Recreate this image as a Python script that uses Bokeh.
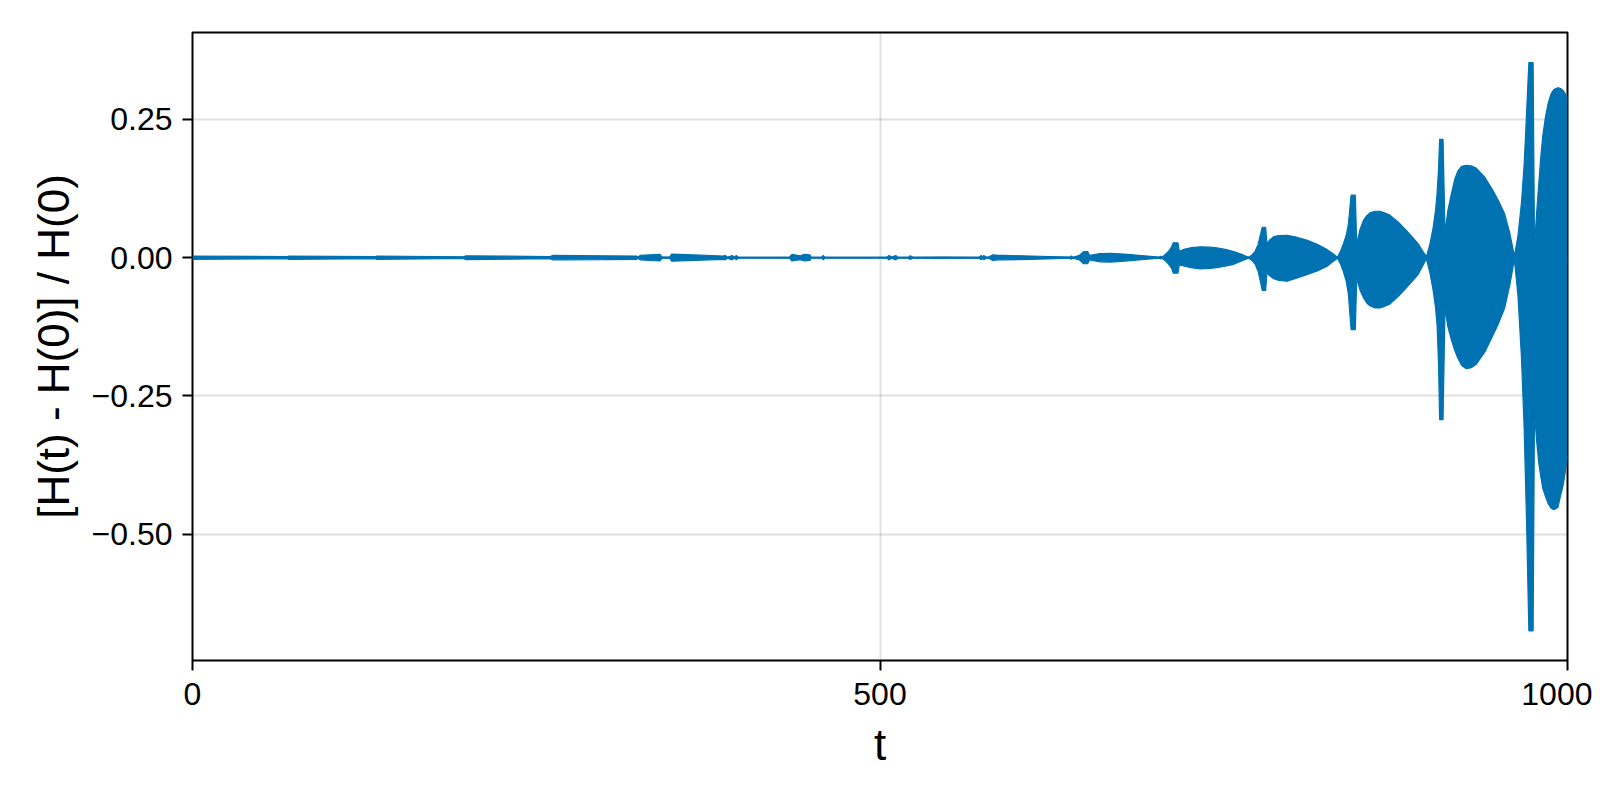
from bokeh.plotting import figure
from bokeh.models import Range1d, FixedTicker
from bokeh.embed import file_html
from bokeh.resources import INLINE

# Envelope (upper / lower extent) of the rapidly oscillating relative energy error,
# read from the picture
t_env = [
    0, 69, 70, 133, 134, 197, 199, 260, 262, 300, 323, 324, 325.5, 340, 341.5,
    347, 348.5, 365, 386, 387.5, 389, 392.5, 394, 395.5, 397, 434, 436, 442, 445,
    449, 450, 457.5, 458.7, 460, 505, 506.5, 508.5, 511.5, 513, 520.5, 522, 524,
    545, 572, 573.5, 574.5, 575.5, 577, 579, 582, 586, 590, 610, 638, 639, 640.5,
    645, 648, 651, 652.5, 660, 668, 680, 703, 704,
    705, 706.6, 708.5, 710.2, 712, 713.3, 716.7, 717.7,
    719, 721, 726, 733, 740, 745, 751, 757.3, 763, 768,
    770.5, 772.8, 775, 776.4, 778, 780.5, 781.4,
    783, 786.3, 790, 796, 803, 810.4, 818, 824.9, 829, 832.7,
    835, 837, 839, 840.6, 842.6, 845.7, 846.7,
    849, 851.5, 854, 856.3, 860, 863.6, 867, 870.8, 877, 882.9, 888, 891.4, 894.5, 897.4,
    900, 902.2, 904, 905.1, 906.2, 907, 909.5, 910.9,
    913, 915.5, 918, 920.3, 923, 926.4, 930, 933.6, 940, 945.7, 950, 954.2, 958, 961.4,
    964, 966.5, 968.5, 970.2, 971.9, 975,
    976, 977.5, 979, 980.5, 982, 984, 986, 988, 990, 993, 995, 997, 1000,
]
upper_env = [
    0.003, 0.002, 0.003, 0.002, 0.003, 0.0015, 0.0035, 0.002, 0.004, 0.0035, 0.003, 0.001, 0.004, 0.006, 0.0008,
    0.0008, 0.0065, 0.005, 0.003, 0.004, 0.0008, 0.004, 0.001, 0.004, 0.0005, 0.0005, 0.006, 0.0035, 0.006,
    0.005, 0.0005, 0.0005, 0.004, 0.0005, 0.0005, 0.004, 0.001, 0.004, 0.0005, 0.0005, 0.0035, 0.0005,
    0.0012, 0.0005, 0.004, 0.001, 0.004, 0.001, 0.001, 0.005, 0.004, 0.004, 0.003, 0.001, 0.003, 0.0008,
    0.004, 0.011, 0.011, 0.004, 0.0075, 0.008, 0.006, 0.0008, 0.0025,
    0.001, 0.004, 0.008, 0.0128, 0.019, 0.027, 0.027, 0.011,
    0.013, 0.015, 0.018, 0.0197, 0.019, 0.0176, 0.015, 0.011, 0.006, 0.0008,
    0.005, 0.0115, 0.024, 0.039, 0.055, 0.055, 0.025,
    0.031, 0.038, 0.040, 0.0405, 0.037, 0.032, 0.024, 0.015, 0.008, 0.001,
    0.012, 0.025, 0.040, 0.060, 0.113, 0.113, 0.025,
    0.050, 0.067, 0.076, 0.081, 0.084, 0.084, 0.081, 0.077, 0.064, 0.049, 0.035, 0.025, 0.013, 0.002,
    0.025, 0.053, 0.085, 0.115, 0.160, 0.214, 0.214, 0.046,
    0.085, 0.115, 0.142, 0.157, 0.165, 0.167, 0.166, 0.162, 0.145, 0.122, 0.102, 0.080, 0.045, 0.003,
    0.040, 0.099, 0.170, 0.260, 0.353, 0.353,
    0.020, 0.080, 0.130, 0.180, 0.220, 0.255, 0.280, 0.296, 0.304, 0.3075, 0.306, 0.302, 0.290,
]
lower_env = [
    -0.003, -0.002, -0.003, -0.002, -0.003, -0.0015, -0.0035, -0.002, -0.004, -0.0035, -0.003, -0.001, -0.004, -0.006, -0.0008,
    -0.0008, -0.0065, -0.005, -0.003, -0.004, -0.0008, -0.004, -0.001, -0.004, -0.0005, -0.0005, -0.006, -0.0035, -0.006,
    -0.005, -0.0005, -0.0005, -0.004, -0.0005, -0.0005, -0.004, -0.001, -0.004, -0.0005, -0.0005, -0.0035, -0.0005,
    -0.0012, -0.0005, -0.004, -0.001, -0.004, -0.001, -0.001, -0.005, -0.004, -0.004, -0.003, -0.001, -0.003, -0.0008,
    -0.004, -0.011, -0.011, -0.004, -0.0075, -0.008, -0.006, -0.0008, -0.0025,
    -0.001, -0.004, -0.008, -0.0128, -0.019, -0.028, -0.028, -0.013,
    -0.014, -0.015, -0.018, -0.0204, -0.0195, -0.018, -0.0155, -0.012, -0.006, -0.0008,
    -0.005, -0.0115, -0.025, -0.040, -0.059, -0.059, -0.027,
    -0.032, -0.038, -0.041, -0.0425, -0.037, -0.031, -0.024, -0.016, -0.008, -0.001,
    -0.012, -0.025, -0.042, -0.065, -0.130, -0.130, -0.037,
    -0.058, -0.072, -0.082, -0.087, -0.091, -0.091, -0.088, -0.084, -0.070, -0.054, -0.040, -0.030, -0.016, -0.002,
    -0.028, -0.058, -0.090, -0.120, -0.190, -0.293, -0.293, -0.092,
    -0.125, -0.148, -0.168, -0.182, -0.195, -0.201, -0.199, -0.193, -0.170, -0.141, -0.118, -0.092, -0.050, -0.003,
    -0.070, -0.180, -0.310, -0.476, -0.675, -0.675,
    -0.280, -0.330, -0.370, -0.395, -0.417, -0.432, -0.445, -0.453, -0.456, -0.452, -0.430, -0.410, -0.360,
]
assert len(t_env) == len(upper_env) == len(lower_env)

baseline_t = [0, 1000]
baseline_v = [0.0, 0.0]

x_ticks = [0, 500, 1000]
x_tick_labels = ["0", "500", "1000"]
y_ticks = [-0.5, -0.25, 0.0, 0.25]
y_tick_labels = ["\u22120.50", "\u22120.25", "0.00", "0.25"]

BLUE = "#0072B2"
FONT = "Liberation Sans"

p = figure(frame_width=1375, frame_height=628,
           min_border_left=192, min_border_top=32, min_border_right=25, min_border_bottom=132,
           x_range=Range1d(0, 1000), y_range=Range1d(-0.7287, 0.4073),
           output_backend="svg", toolbar_location=None)

p.varea(x=t_env, y1=lower_env, y2=upper_env, fill_color=BLUE)
p.line(t_env, upper_env, line_color=BLUE, line_width=1.2)
p.line(t_env, lower_env, line_color=BLUE, line_width=1.2)
p.line(baseline_t, baseline_v, line_color=BLUE, line_width=2)

p.background_fill_color = "white"
p.border_fill_color = "white"
p.outline_line_color = "black"
p.outline_line_width = 2
p.outline_line_alpha = 1.0

p.xaxis.ticker = FixedTicker(ticks=x_ticks)
p.yaxis.ticker = FixedTicker(ticks=y_ticks)
p.xaxis.major_label_overrides = {k: v for k, v in zip(x_ticks, x_tick_labels)}
p.yaxis.major_label_overrides = {k: v for k, v in zip(y_ticks, y_tick_labels)}
p.xgrid.ticker = FixedTicker(ticks=x_ticks)
p.ygrid.ticker = FixedTicker(ticks=y_ticks)
p.grid.grid_line_color = "black"
p.grid.grid_line_alpha = 0.12
p.grid.grid_line_width = 2

for ax in (p.xaxis[0], p.yaxis[0]):
    ax.axis_line_color = None
    ax.major_tick_line_color = "black"
    ax.major_tick_line_width = 2
    ax.major_tick_out = 10
    ax.major_tick_in = 0
    ax.minor_tick_line_color = None
    ax.major_label_text_font = FONT
    ax.major_label_text_font_size = "32px"
    ax.major_label_text_color = "black"
    ax.axis_label_text_font = FONT
    ax.axis_label_text_font_size = "44px"
    ax.axis_label_text_font_style = "normal"
    ax.axis_label_text_color = "black"

p.xaxis.axis_label = "t"
p.yaxis.axis_label = "[H(t) - H(0)] / H(0)"
p.xaxis.major_label_standoff = 12
p.yaxis.major_label_standoff = 10
p.xaxis.axis_label_standoff = 12
p.yaxis.axis_label_standoff = 11

open("out.html", "w").write(file_html(p, INLINE))
